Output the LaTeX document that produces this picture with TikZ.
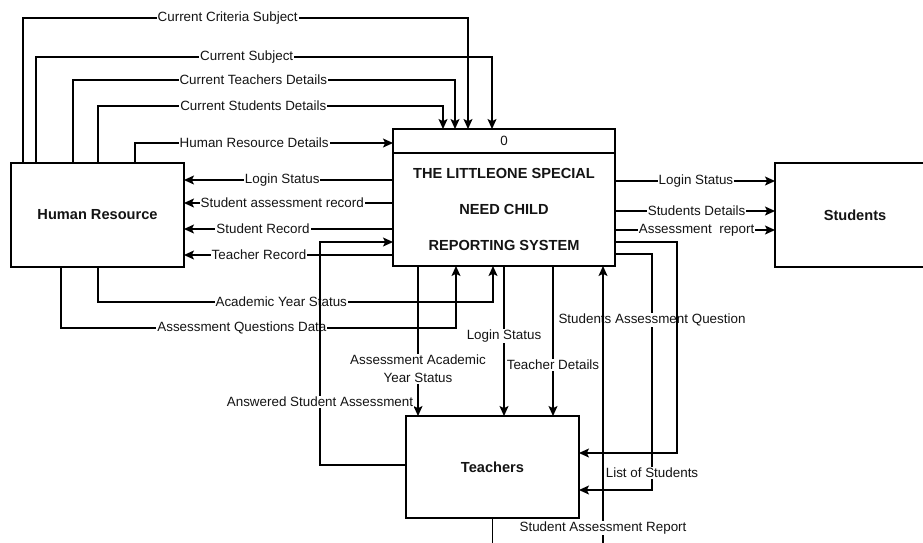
\documentclass[tikz,border=0pt]{standalone}
\usepackage{fontspec}
\setmainfont{Liberation Sans}
\usetikzlibrary{arrows.meta,calc}
\begin{document}
\begin{tikzpicture}[x=1pt,y=-1pt,
  box/.style={draw=black, line width=1.3pt, fill=white, outer sep=0pt, inner sep=0pt,
    text=black!92, font=\bfseries\fontsize{14.6}{17}\selectfont},
  flow/.style={draw=black, line width=1.25pt, -{Stealth[length=10pt,width=9pt,inset=2.2pt]}},
  lbl/.style={fill=white, inner xsep=1pt, inner ysep=1pt, text=black!92,
    font=\fontsize{13.4}{15}\selectfont},
  lbltwo/.style={lbl, align=center, font=\fontsize{13.4}{18}\selectfont},
]
\useasboundingbox (0,0) rectangle (923,542);
\clip (0,0) rectangle (923,542);
\fill[white] (0,0) rectangle (923,542);

% external entities and the process
\node[box, minimum width=173pt, minimum height=104pt] (hr) at (97.5,215) {Human Resource};
\node[box, minimum width=222pt, minimum height=137pt] (proc) at (504,197.5) {};
\node[box, minimum width=173pt, minimum height=102pt] (teach) at (492.5,467) {Teachers};
\node[box, minimum width=160pt, minimum height=104pt] (stud) at (855,215) {Students};

% process header and title
\draw[draw=black, line width=1.3pt] ([yshift=-24pt]proc.north west) -- ([yshift=-24pt]proc.north east);
\node[text=black!92, font=\fontsize{13.4}{15}\selectfont] (pnum) at (504,141) {0};
\node[align=center, text=black!92, font=\bfseries\fontsize{14.6}{36}\selectfont] (ptitle) at (504,209)
  {THE LITTLEONE SPECIAL\\NEED CHILD\\REPORTING SYSTEM};

% Human Resource -> process (top)
\draw[flow] ([xshift=12pt]hr.north west) -- ++(0,-145) -| node[lbl,pos=0.23]{Current Criteria Subject} ([xshift=75pt]proc.north west);
\draw[flow] ([xshift=25pt]hr.north west) -- ++(0,-106) -| node[lbl,pos=0.231]{Current Subject} ([xshift=99pt]proc.north west);
\draw[flow] ([xshift=62pt]hr.north west) -- ++(0,-83) -| node[lbl,pos=0.236]{Current Teachers Details} ([xshift=62pt]proc.north west);
\draw[flow] ([xshift=87pt]hr.north west) -- ++(0,-57) -| node[lbl,pos=0.225]{Current Students Details} ([xshift=50pt]proc.north west);
\draw[flow] ([xshift=124pt]hr.north west) |- node[lbl,pos=0.731]{Human Resource Details} ([yshift=-14pt]proc.north west);

% process -> Human Resource
\draw[flow] ([yshift=-51pt]proc.north west) -- node[lbl,pos=0.53]{Login Status} ([yshift=-17pt]hr.north east);
\draw[flow] ([yshift=-74pt]proc.north west) -- node[lbl,pos=0.53]{Student assessment record} ([yshift=-40pt]hr.north east);
\draw[flow] ([yshift=-100pt]proc.north west) -- node[lbl,pos=0.622]{Student Record} ([yshift=-66pt]hr.north east);
\draw[flow] ([yshift=-126pt]proc.north west) -- node[lbl,pos=0.641]{Teacher Record} ([yshift=-92pt]hr.north east);

% process -> Students
\draw[flow] ([yshift=-52pt]proc.north east) -- node[lbl,pos=0.506]{Login Status} ([yshift=-18pt]stud.north west);
\draw[flow] ([yshift=-82pt]proc.north east) -- node[lbl,pos=0.51]{Students Details} ([yshift=-48pt]stud.north west);
\draw[flow] ([yshift=-101pt]proc.north east) -- node[lbl,pos=0.51]{Assessment~~report} ([yshift=-67pt]stud.north west);

% Human Resource -> process (bottom)
\draw[flow] ([xshift=87pt]hr.south west) -- ++(0,35) -| node[lbl,pos=0.232]{Academic Year Status} ([xshift=100pt]proc.south west);
\draw[flow] ([xshift=50pt]hr.south west) -- ++(0,61) -| node[lbl,pos=0.229]{Assessment Questions Data} ([xshift=63pt]proc.south west);

% process -> Teachers
\draw[flow] ([xshift=25pt]proc.south west) -- node[lbltwo,pos=0.687]{Assessment Academic\\Year Status} ([xshift=12pt]teach.north west);
\draw[flow] ([xshift=111pt]proc.south west) -- node[lbl,pos=0.467]{Login Status} ([xshift=98pt]teach.north west);
\draw[flow] ([xshift=160pt]proc.south west) -- node[lbl,pos=0.66]{Teacher Details} ([xshift=147pt]teach.north west);

% Teachers -> process
\draw[flow] ([yshift=-49pt]teach.north west) -| node[lbl,pos=0.641]{Answered Student Assessment}
  ([xshift=-73pt,yshift=-113pt]proc.north west) -- ([yshift=-113pt]proc.north west);

% process -> Teachers (right side)
\draw[flow] ([yshift=-125pt]proc.north east) -| node[lbl,pos=0.64]{Students Assessment Question}
  node[lbl,pos=0.964]{List of Students}
  ([xshift=73pt,yshift=-74pt]teach.north east) -- ([yshift=-74pt]teach.north east);
\draw[flow] ([yshift=-113pt]proc.north east) -| ([xshift=98pt,yshift=-37pt]teach.north east) -- ([yshift=-37pt]teach.north east);

% Teachers -> process (report loop below)
\draw[flow] (teach.south) -- ++(0,32) -| node[lbl,pos=0.539]{Student Assessment Report} ([xshift=-12pt]proc.south east);
\end{tikzpicture}
\end{document}
